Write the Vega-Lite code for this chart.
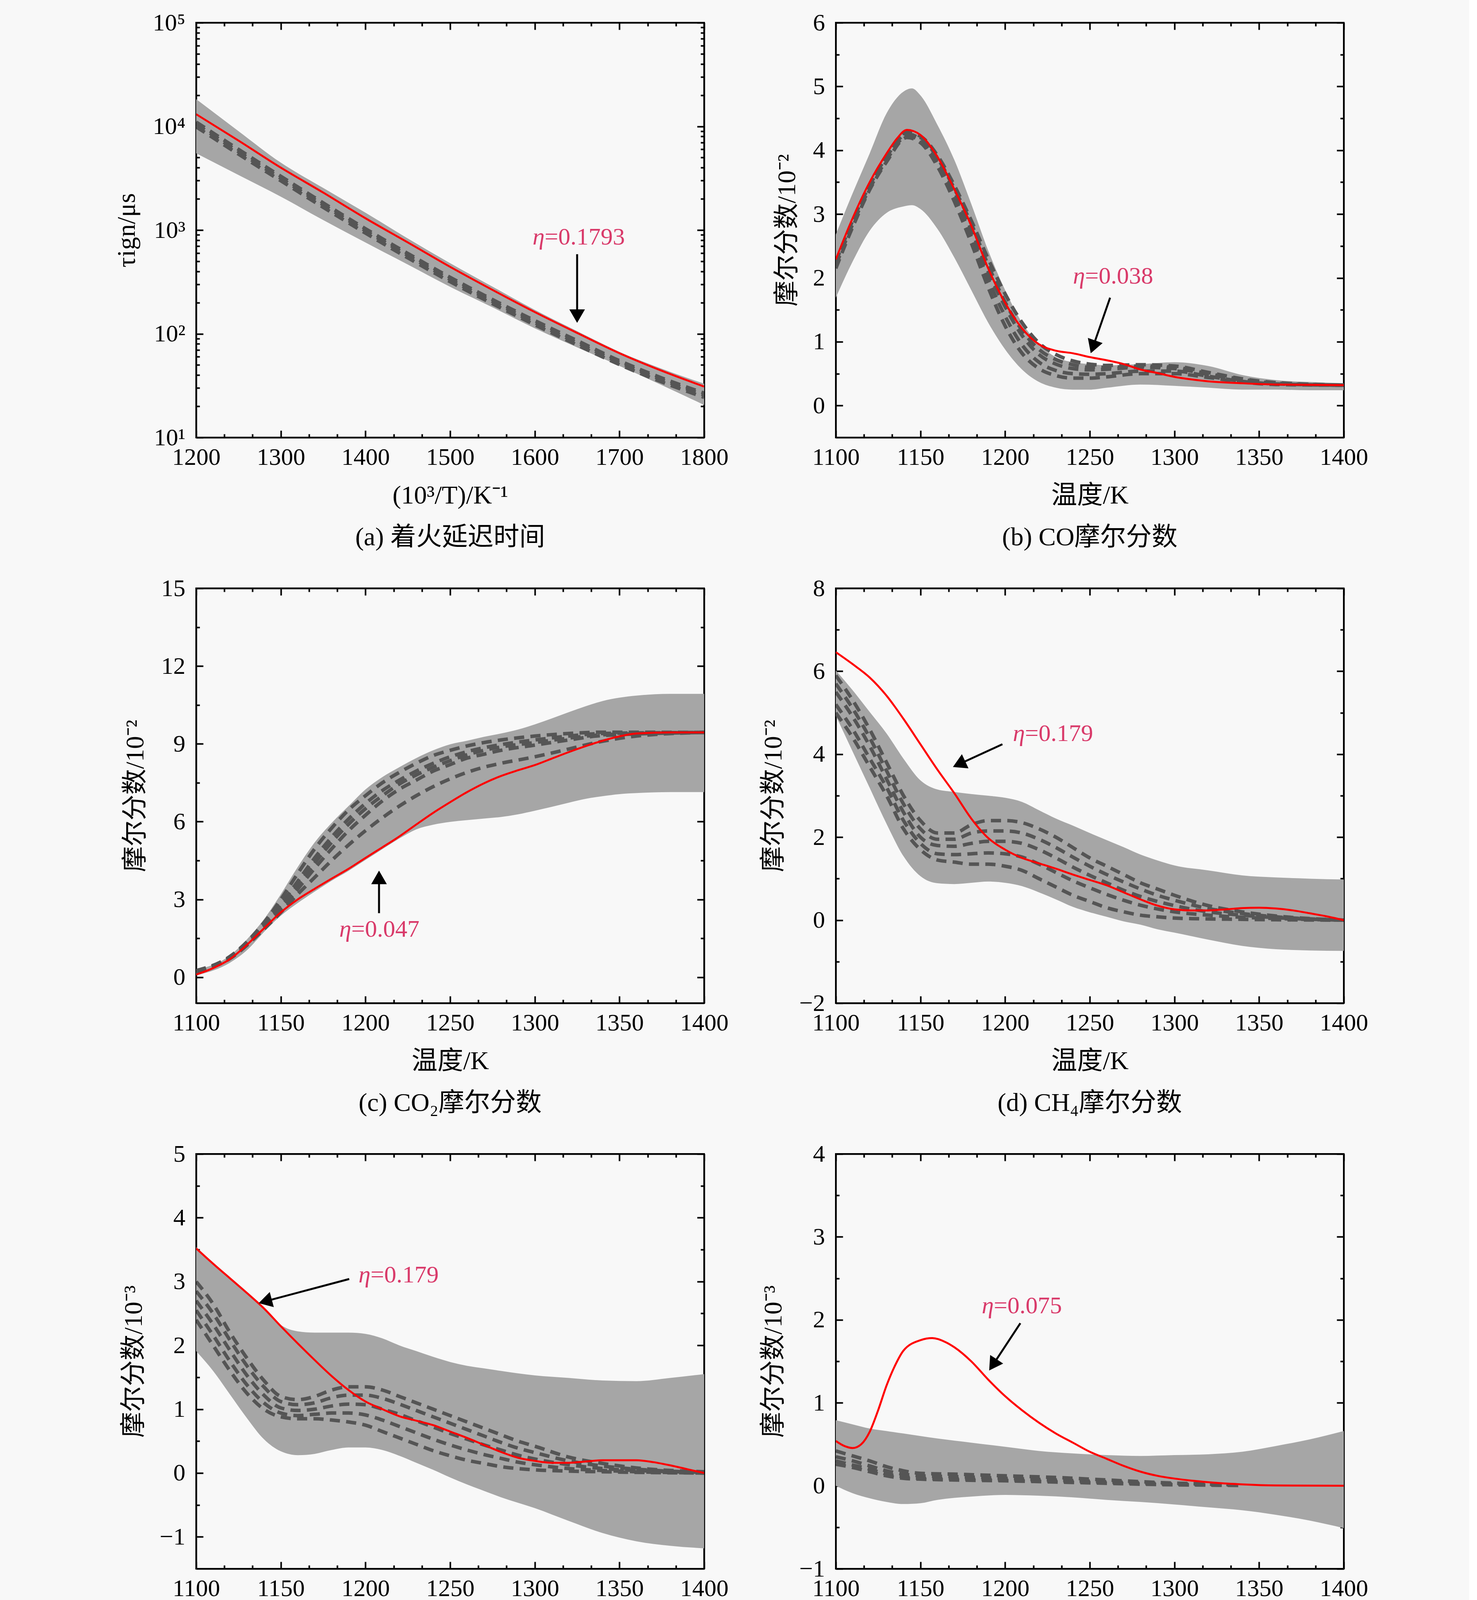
{
"$schema": "https://vega.github.io/schema/vega-lite/v6.json",
"background": "#F8F8F8",
"padding": {"left": 289, "top": 25, "right": 257, "bottom": 0},
"bounds": "flush",
"columns": 2,
"spacing": {"row": 386, "column": 337},
"config": {
 "font": "Liberation Serif, Noto Sans CJK SC",
 "view": {"stroke": "black", "strokeWidth": 4},
 "axis": {"labelFont": "Liberation Serif, Noto Sans CJK SC", "titleFont": "Liberation Serif, Noto Sans CJK SC", "labelFontSize": 62, "titleFontSize": 66, "titleFontWeight": "normal", "labelColor": "black", "titleColor": "black", "tickColor": "black", "domainColor": "black", "tickWidth": 4, "domainWidth": 4, "grid": false, "labelFlush": false, "labelOverlap": false, "zindex": 1},
 "axisX": {"format": "d"},
 "title": {"font": "Liberation Serif, Noto Sans CJK SC", "fontSize": 66, "fontWeight": "normal", "color": "black", "orient": "bottom", "offset": 43, "frame": "group", "anchor": "middle"}
},
"datasets": {
 "aB": [{"x":1200,"lo":5500,"hi":18300},{"x":1250,"lo":3400,"hi":9000},{"x":1300,"lo":2100,"hi":4470},{"x":1350,"lo":1250,"hi":2550},{"x":1400,"lo":760,"hi":1470},{"x":1450,"lo":465,"hi":830},{"x":1500,"lo":284,"hi":480},{"x":1550,"lo":180,"hi":285},{"x":1600,"lo":113,"hi":170},{"x":1650,"lo":74,"hi":106},{"x":1700,"lo":49,"hi":67},{"x":1750,"lo":32,"hi":46},{"x":1800,"lo":20.6,"hi":33}],
 "aR": [{"x":1200,"y":13100},{"x":1250,"y":7300},{"x":1300,"y":4000},{"x":1350,"y":2300},{"x":1400,"y":1300},{"x":1450,"y":760},{"x":1500,"y":442},{"x":1550,"y":265},{"x":1600,"y":162},{"x":1650,"y":102},{"x":1700,"y":65},{"x":1750,"y":44},{"x":1800,"y":31}],
 "aS": [
  {"x":1200,"y":11000,"r":1},{"x":1250,"y":6000,"r":1},{"x":1300,"y":3300,"r":1},{"x":1350,"y":1830,"r":1},{"x":1400,"y":1030,"r":1},{"x":1450,"y":595,"r":1},{"x":1500,"y":350,"r":1},{"x":1550,"y":214,"r":1},{"x":1600,"y":134,"r":1},{"x":1650,"y":86,"r":1},{"x":1700,"y":55,"r":1},{"x":1750,"y":37.5,"r":1},{"x":1800,"y":26.8,"r":1},
  {"x":1200,"y":10500,"r":2},{"x":1250,"y":5700,"r":2},{"x":1300,"y":3150,"r":2},{"x":1350,"y":1750,"r":2},{"x":1400,"y":985,"r":2},{"x":1450,"y":570,"r":2},{"x":1500,"y":334,"r":2},{"x":1550,"y":205,"r":2},{"x":1600,"y":128,"r":2},{"x":1650,"y":82,"r":2},{"x":1700,"y":53,"r":2},{"x":1750,"y":36,"r":2},{"x":1800,"y":25.7,"r":2},
  {"x":1200,"y":9900,"r":3},{"x":1250,"y":5400,"r":3},{"x":1300,"y":2990,"r":3},{"x":1350,"y":1660,"r":3},{"x":1400,"y":935,"r":3},{"x":1450,"y":540,"r":3},{"x":1500,"y":318,"r":3},{"x":1550,"y":195,"r":3},{"x":1600,"y":122,"r":3},{"x":1650,"y":78,"r":3},{"x":1700,"y":50.5,"r":3},{"x":1750,"y":34.3,"r":3},{"x":1800,"y":24.4,"r":3}],
 "aN": [{"x":1650,"y":585,"hx":1650,"hy":148,"tx":1611.6,"ty":859,"eta":"=0.1793"}],
 "bB": [{"x":1100,"lo":1.69,"hi":2.68},{"x":1110,"lo":2.26,"hi":3.33},{"x":1120,"lo":2.74,"hi":3.95},{"x":1130,"lo":3.02,"hi":4.58},{"x":1140,"lo":3.12,"hi":4.92},{"x":1145,"lo":3.14,"hi":4.97},{"x":1150,"lo":3.08,"hi":4.86},{"x":1160,"lo":2.77,"hi":4.4},{"x":1170,"lo":2.32,"hi":3.85},{"x":1180,"lo":1.81,"hi":3.16},{"x":1190,"lo":1.3,"hi":2.43},{"x":1200,"lo":0.88,"hi":1.81},{"x":1210,"lo":0.565,"hi":1.3},{"x":1220,"lo":0.37,"hi":0.96},{"x":1230,"lo":0.28,"hi":0.76},{"x":1240,"lo":0.25,"hi":0.68},{"x":1250,"lo":0.25,"hi":0.65},{"x":1260,"lo":0.28,"hi":0.63},{"x":1280,"lo":0.33,"hi":0.65},{"x":1300,"lo":0.31,"hi":0.68},{"x":1320,"lo":0.28,"hi":0.62},{"x":1340,"lo":0.25,"hi":0.48},{"x":1360,"lo":0.25,"hi":0.4},{"x":1380,"lo":0.24,"hi":0.37},{"x":1400,"lo":0.24,"hi":0.35}],
 "bR": [{"x":1100,"y":2.29},{"x":1110,"y":2.94},{"x":1120,"y":3.5},{"x":1130,"y":3.95},{"x":1136,"y":4.18},{"x":1142,"y":4.32},{"x":1146,"y":4.3},{"x":1150,"y":4.24},{"x":1160,"y":3.9},{"x":1170,"y":3.39},{"x":1180,"y":2.82},{"x":1190,"y":2.15},{"x":1200,"y":1.61},{"x":1210,"y":1.21},{"x":1220,"y":0.96},{"x":1230,"y":0.86},{"x":1240,"y":0.82},{"x":1250,"y":0.76},{"x":1260,"y":0.71},{"x":1270,"y":0.65},{"x":1280,"y":0.565},{"x":1290,"y":0.51},{"x":1300,"y":0.45},{"x":1310,"y":0.41},{"x":1320,"y":0.38},{"x":1340,"y":0.35},{"x":1360,"y":0.33},{"x":1400,"y":0.32}],
 "bS": [
  {"x":1100,"y":2.2,"r":1},{"x":1110,"y":2.85,"r":1},{"x":1120,"y":3.45,"r":1},{"x":1130,"y":3.92,"r":1},{"x":1142,"y":4.28,"r":1},{"x":1150,"y":4.22,"r":1},{"x":1160,"y":3.92,"r":1},{"x":1170,"y":3.45,"r":1},{"x":1180,"y":2.9,"r":1},{"x":1190,"y":2.3,"r":1},{"x":1200,"y":1.75,"r":1},{"x":1210,"y":1.3,"r":1},{"x":1220,"y":0.98,"r":1},{"x":1230,"y":0.8,"r":1},{"x":1240,"y":0.7,"r":1},{"x":1250,"y":0.65,"r":1},{"x":1260,"y":0.63,"r":1},{"x":1280,"y":0.64,"r":1},{"x":1300,"y":0.62,"r":1},{"x":1320,"y":0.52,"r":1},{"x":1340,"y":0.42,"r":1},{"x":1360,"y":0.36,"r":1},{"x":1400,"y":0.32,"r":1},
  {"x":1100,"y":2.25,"r":2},{"x":1110,"y":2.9,"r":2},{"x":1120,"y":3.45,"r":2},{"x":1130,"y":3.9,"r":2},{"x":1142,"y":4.25,"r":2},{"x":1150,"y":4.18,"r":2},{"x":1160,"y":3.85,"r":2},{"x":1170,"y":3.35,"r":2},{"x":1180,"y":2.75,"r":2},{"x":1190,"y":2.1,"r":2},{"x":1200,"y":1.55,"r":2},{"x":1210,"y":1.1,"r":2},{"x":1220,"y":0.8,"r":2},{"x":1230,"y":0.65,"r":2},{"x":1240,"y":0.58,"r":2},{"x":1250,"y":0.56,"r":2},{"x":1260,"y":0.57,"r":2},{"x":1280,"y":0.6,"r":2},{"x":1300,"y":0.58,"r":2},{"x":1320,"y":0.49,"r":2},{"x":1340,"y":0.4,"r":2},{"x":1360,"y":0.35,"r":2},{"x":1400,"y":0.32,"r":2},
  {"x":1100,"y":2.2,"r":3},{"x":1110,"y":2.85,"r":3},{"x":1120,"y":3.4,"r":3},{"x":1130,"y":3.85,"r":3},{"x":1142,"y":4.22,"r":3},{"x":1150,"y":4.15,"r":3},{"x":1160,"y":3.8,"r":3},{"x":1170,"y":3.28,"r":3},{"x":1180,"y":2.65,"r":3},{"x":1190,"y":1.98,"r":3},{"x":1200,"y":1.4,"r":3},{"x":1210,"y":0.95,"r":3},{"x":1220,"y":0.68,"r":3},{"x":1230,"y":0.55,"r":3},{"x":1240,"y":0.5,"r":3},{"x":1250,"y":0.49,"r":3},{"x":1260,"y":0.5,"r":3},{"x":1280,"y":0.54,"r":3},{"x":1300,"y":0.54,"r":3},{"x":1320,"y":0.46,"r":3},{"x":1340,"y":0.38,"r":3},{"x":1360,"y":0.34,"r":3},{"x":1400,"y":0.32,"r":3},
  {"x":1100,"y":2.15,"r":4},{"x":1110,"y":2.8,"r":4},{"x":1120,"y":3.38,"r":4},{"x":1130,"y":3.82,"r":4},{"x":1142,"y":4.2,"r":4},{"x":1150,"y":4.12,"r":4},{"x":1160,"y":3.75,"r":4},{"x":1170,"y":3.2,"r":4},{"x":1180,"y":2.55,"r":4},{"x":1190,"y":1.85,"r":4},{"x":1200,"y":1.25,"r":4},{"x":1210,"y":0.82,"r":4},{"x":1220,"y":0.58,"r":4},{"x":1230,"y":0.47,"r":4},{"x":1240,"y":0.43,"r":4},{"x":1250,"y":0.43,"r":4},{"x":1260,"y":0.45,"r":4},{"x":1280,"y":0.5,"r":4},{"x":1300,"y":0.5,"r":4},{"x":1320,"y":0.44,"r":4},{"x":1340,"y":0.37,"r":4},{"x":1360,"y":0.33,"r":4},{"x":1400,"y":0.32,"r":4},
  {"x":1100,"y":2.2,"r":5},{"x":1110,"y":2.85,"r":5},{"x":1120,"y":3.42,"r":5},{"x":1130,"y":3.88,"r":5},{"x":1142,"y":4.25,"r":5},{"x":1150,"y":4.2,"r":5},{"x":1160,"y":3.88,"r":5},{"x":1170,"y":3.4,"r":5},{"x":1180,"y":2.85,"r":5},{"x":1190,"y":2.2,"r":5},{"x":1200,"y":1.62,"r":5},{"x":1210,"y":1.18,"r":5},{"x":1220,"y":0.88,"r":5},{"x":1230,"y":0.72,"r":5},{"x":1240,"y":0.64,"r":5},{"x":1250,"y":0.6,"r":5},{"x":1260,"y":0.6,"r":5},{"x":1280,"y":0.62,"r":5},{"x":1300,"y":0.6,"r":5},{"x":1320,"y":0.5,"r":5},{"x":1340,"y":0.41,"r":5},{"x":1360,"y":0.35,"r":5},{"x":1400,"y":0.32,"r":5}],
 "bN": [{"x":1262,"y":1.69,"hx":1251.9,"hy":0.92,"tx":1247.2,"ty":2.03,"eta":"=0.038"}],
 "cB": [{"x":1100,"lo":0.07,"hi":0.28},{"x":1120,"lo":0.56,"hi":0.84},{"x":1130,"lo":1.04,"hi":1.46},{"x":1140,"lo":1.74,"hi":2.23},{"x":1150,"lo":2.37,"hi":3.2},{"x":1160,"lo":2.86,"hi":4.25},{"x":1170,"lo":3.3,"hi":5.2},{"x":1180,"lo":3.72,"hi":5.95},{"x":1190,"lo":4.1,"hi":6.6},{"x":1200,"lo":4.52,"hi":7.24},{"x":1210,"lo":4.94,"hi":7.72},{"x":1220,"lo":5.35,"hi":8.1},{"x":1230,"lo":5.7,"hi":8.45},{"x":1240,"lo":5.88,"hi":8.75},{"x":1250,"lo":5.99,"hi":8.98},{"x":1260,"lo":6.06,"hi":9.12},{"x":1270,"lo":6.12,"hi":9.27},{"x":1280,"lo":6.18,"hi":9.4},{"x":1290,"lo":6.28,"hi":9.55},{"x":1300,"lo":6.42,"hi":9.75},{"x":1310,"lo":6.57,"hi":9.98},{"x":1320,"lo":6.73,"hi":10.22},{"x":1330,"lo":6.88,"hi":10.45},{"x":1340,"lo":6.98,"hi":10.65},{"x":1350,"lo":7.06,"hi":10.78},{"x":1360,"lo":7.1,"hi":10.86},{"x":1380,"lo":7.14,"hi":10.93},{"x":1400,"lo":7.14,"hi":10.93}],
 "cR": [{"x":1100,"y":0.1},{"x":1110,"y":0.35},{"x":1120,"y":0.7},{"x":1130,"y":1.25},{"x":1140,"y":1.88},{"x":1150,"y":2.5},{"x":1160,"y":3.0},{"x":1170,"y":3.41},{"x":1180,"y":3.8},{"x":1190,"y":4.18},{"x":1200,"y":4.6},{"x":1210,"y":5.01},{"x":1220,"y":5.43},{"x":1230,"y":5.89},{"x":1240,"y":6.34},{"x":1250,"y":6.75},{"x":1260,"y":7.14},{"x":1270,"y":7.48},{"x":1280,"y":7.76},{"x":1290,"y":7.98},{"x":1300,"y":8.18},{"x":1310,"y":8.43},{"x":1320,"y":8.68},{"x":1330,"y":8.91},{"x":1340,"y":9.12},{"x":1350,"y":9.29},{"x":1360,"y":9.4},{"x":1380,"y":9.44},{"x":1400,"y":9.44}],
 "cS": [
  {"x":1100,"y":0.25,"r":1},{"x":1120,"y":0.8,"r":1},{"x":1140,"y":2.1,"r":1},{"x":1150,"y":3.0,"r":1},{"x":1160,"y":4.0,"r":1},{"x":1170,"y":4.95,"r":1},{"x":1180,"y":5.75,"r":1},{"x":1190,"y":6.45,"r":1},{"x":1200,"y":7.0,"r":1},{"x":1210,"y":7.5,"r":1},{"x":1220,"y":7.9,"r":1},{"x":1230,"y":8.25,"r":1},{"x":1240,"y":8.55,"r":1},{"x":1250,"y":8.75,"r":1},{"x":1260,"y":8.92,"r":1},{"x":1270,"y":9.05,"r":1},{"x":1280,"y":9.15,"r":1},{"x":1300,"y":9.3,"r":1},{"x":1320,"y":9.4,"r":1},{"x":1340,"y":9.45,"r":1},{"x":1400,"y":9.44,"r":1},
  {"x":1100,"y":0.25,"r":2},{"x":1120,"y":0.78,"r":2},{"x":1140,"y":2.0,"r":2},{"x":1150,"y":2.8,"r":2},{"x":1160,"y":3.7,"r":2},{"x":1170,"y":4.6,"r":2},{"x":1180,"y":5.4,"r":2},{"x":1190,"y":6.1,"r":2},{"x":1200,"y":6.7,"r":2},{"x":1210,"y":7.2,"r":2},{"x":1220,"y":7.6,"r":2},{"x":1230,"y":7.95,"r":2},{"x":1240,"y":8.25,"r":2},{"x":1250,"y":8.5,"r":2},{"x":1260,"y":8.7,"r":2},{"x":1270,"y":8.85,"r":2},{"x":1280,"y":8.97,"r":2},{"x":1300,"y":9.15,"r":2},{"x":1320,"y":9.3,"r":2},{"x":1340,"y":9.4,"r":2},{"x":1400,"y":9.44,"r":2},
  {"x":1100,"y":0.22,"r":3},{"x":1120,"y":0.75,"r":3},{"x":1140,"y":1.9,"r":3},{"x":1150,"y":2.6,"r":3},{"x":1160,"y":3.4,"r":3},{"x":1170,"y":4.2,"r":3},{"x":1180,"y":4.95,"r":3},{"x":1190,"y":5.65,"r":3},{"x":1200,"y":6.25,"r":3},{"x":1210,"y":6.8,"r":3},{"x":1220,"y":7.25,"r":3},{"x":1230,"y":7.6,"r":3},{"x":1240,"y":7.95,"r":3},{"x":1250,"y":8.2,"r":3},{"x":1260,"y":8.45,"r":3},{"x":1270,"y":8.6,"r":3},{"x":1280,"y":8.75,"r":3},{"x":1300,"y":8.95,"r":3},{"x":1320,"y":9.15,"r":3},{"x":1340,"y":9.32,"r":3},{"x":1400,"y":9.44,"r":3},
  {"x":1100,"y":0.2,"r":4},{"x":1120,"y":0.72,"r":4},{"x":1140,"y":1.85,"r":4},{"x":1150,"y":2.5,"r":4},{"x":1160,"y":3.2,"r":4},{"x":1170,"y":3.85,"r":4},{"x":1180,"y":4.5,"r":4},{"x":1190,"y":5.1,"r":4},{"x":1200,"y":5.65,"r":4},{"x":1210,"y":6.15,"r":4},{"x":1220,"y":6.6,"r":4},{"x":1230,"y":7.0,"r":4},{"x":1240,"y":7.35,"r":4},{"x":1250,"y":7.65,"r":4},{"x":1260,"y":7.9,"r":4},{"x":1270,"y":8.1,"r":4},{"x":1280,"y":8.25,"r":4},{"x":1300,"y":8.5,"r":4},{"x":1320,"y":8.8,"r":4},{"x":1340,"y":9.1,"r":4},{"x":1360,"y":9.3,"r":4},{"x":1400,"y":9.44,"r":4},
  {"x":1100,"y":0.22,"r":5},{"x":1120,"y":0.76,"r":5},{"x":1140,"y":1.95,"r":5},{"x":1150,"y":2.7,"r":5},{"x":1160,"y":3.55,"r":5},{"x":1170,"y":4.4,"r":5},{"x":1180,"y":5.2,"r":5},{"x":1190,"y":5.9,"r":5},{"x":1200,"y":6.5,"r":5},{"x":1210,"y":7.0,"r":5},{"x":1220,"y":7.45,"r":5},{"x":1230,"y":7.8,"r":5},{"x":1240,"y":8.1,"r":5},{"x":1250,"y":8.35,"r":5},{"x":1260,"y":8.58,"r":5},{"x":1270,"y":8.75,"r":5},{"x":1280,"y":8.88,"r":5},{"x":1300,"y":9.05,"r":5},{"x":1320,"y":9.22,"r":5},{"x":1340,"y":9.35,"r":5},{"x":1400,"y":9.44,"r":5}],
 "cN": [{"x":1208,"y":2.47,"hx":1208,"hy":3.85,"tx":1191.6,"ty":1.85,"eta":"=0.047"}],
 "dB": [{"x":1100,"lo":4.93,"hi":6.02},{"x":1110,"lo":4.06,"hi":5.54},{"x":1120,"lo":3.19,"hi":5.02},{"x":1130,"lo":2.32,"hi":4.5},{"x":1140,"lo":1.54,"hi":3.89},{"x":1150,"lo":1.06,"hi":3.37},{"x":1160,"lo":0.89,"hi":3.15},{"x":1170,"lo":0.87,"hi":3.09},{"x":1180,"lo":0.9,"hi":3.04},{"x":1190,"lo":0.93,"hi":3.0},{"x":1200,"lo":0.9,"hi":2.95},{"x":1210,"lo":0.82,"hi":2.85},{"x":1220,"lo":0.67,"hi":2.65},{"x":1230,"lo":0.5,"hi":2.45},{"x":1240,"lo":0.32,"hi":2.28},{"x":1250,"lo":0.19,"hi":2.1},{"x":1260,"lo":0.08,"hi":1.93},{"x":1270,"lo":-0.03,"hi":1.76},{"x":1280,"lo":-0.11,"hi":1.58},{"x":1290,"lo":-0.22,"hi":1.44},{"x":1300,"lo":-0.3,"hi":1.32},{"x":1320,"lo":-0.47,"hi":1.2},{"x":1340,"lo":-0.62,"hi":1.08},{"x":1360,"lo":-0.7,"hi":1.03},{"x":1380,"lo":-0.73,"hi":1.0},{"x":1400,"lo":-0.74,"hi":0.98}],
 "dR": [{"x":1100,"y":6.46},{"x":1110,"y":6.17},{"x":1120,"y":5.85},{"x":1130,"y":5.41},{"x":1140,"y":4.85},{"x":1150,"y":4.24},{"x":1160,"y":3.63},{"x":1170,"y":3.06},{"x":1180,"y":2.45},{"x":1190,"y":1.98},{"x":1200,"y":1.7},{"x":1210,"y":1.5},{"x":1220,"y":1.37},{"x":1230,"y":1.24},{"x":1240,"y":1.1},{"x":1250,"y":0.97},{"x":1260,"y":0.84},{"x":1270,"y":0.67},{"x":1280,"y":0.5},{"x":1290,"y":0.35},{"x":1300,"y":0.26},{"x":1310,"y":0.235},{"x":1320,"y":0.235},{"x":1330,"y":0.26},{"x":1340,"y":0.29},{"x":1350,"y":0.3},{"x":1360,"y":0.28},{"x":1370,"y":0.235},{"x":1380,"y":0.165},{"x":1390,"y":0.09},{"x":1400,"y":0.0}],
 "dS": [
  {"x":1100,"y":5.9,"r":1},{"x":1110,"y":5.3,"r":1},{"x":1120,"y":4.6,"r":1},{"x":1130,"y":3.8,"r":1},{"x":1140,"y":3.0,"r":1},{"x":1150,"y":2.4,"r":1},{"x":1160,"y":2.1,"r":1},{"x":1170,"y":2.1,"r":1},{"x":1180,"y":2.3,"r":1},{"x":1190,"y":2.4,"r":1},{"x":1200,"y":2.4,"r":1},{"x":1210,"y":2.35,"r":1},{"x":1220,"y":2.2,"r":1},{"x":1230,"y":2.0,"r":1},{"x":1240,"y":1.75,"r":1},{"x":1250,"y":1.5,"r":1},{"x":1260,"y":1.3,"r":1},{"x":1270,"y":1.1,"r":1},{"x":1280,"y":0.9,"r":1},{"x":1290,"y":0.75,"r":1},{"x":1300,"y":0.6,"r":1},{"x":1320,"y":0.35,"r":1},{"x":1340,"y":0.2,"r":1},{"x":1360,"y":0.1,"r":1},{"x":1400,"y":0.0,"r":1},
  {"x":1100,"y":5.7,"r":2},{"x":1110,"y":5.1,"r":2},{"x":1120,"y":4.4,"r":2},{"x":1130,"y":3.6,"r":2},{"x":1140,"y":2.8,"r":2},{"x":1150,"y":2.2,"r":2},{"x":1160,"y":1.95,"r":2},{"x":1170,"y":1.95,"r":2},{"x":1180,"y":2.1,"r":2},{"x":1190,"y":2.15,"r":2},{"x":1200,"y":2.15,"r":2},{"x":1210,"y":2.1,"r":2},{"x":1220,"y":1.95,"r":2},{"x":1230,"y":1.75,"r":2},{"x":1240,"y":1.52,"r":2},{"x":1250,"y":1.3,"r":2},{"x":1260,"y":1.1,"r":2},{"x":1270,"y":0.92,"r":2},{"x":1280,"y":0.75,"r":2},{"x":1290,"y":0.6,"r":2},{"x":1300,"y":0.48,"r":2},{"x":1320,"y":0.28,"r":2},{"x":1340,"y":0.16,"r":2},{"x":1360,"y":0.08,"r":2},{"x":1400,"y":0.0,"r":2},
  {"x":1100,"y":5.5,"r":3},{"x":1110,"y":4.9,"r":3},{"x":1120,"y":4.2,"r":3},{"x":1130,"y":3.4,"r":3},{"x":1140,"y":2.6,"r":3},{"x":1150,"y":2.0,"r":3},{"x":1160,"y":1.8,"r":3},{"x":1170,"y":1.78,"r":3},{"x":1180,"y":1.85,"r":3},{"x":1190,"y":1.9,"r":3},{"x":1200,"y":1.9,"r":3},{"x":1210,"y":1.85,"r":3},{"x":1220,"y":1.7,"r":3},{"x":1230,"y":1.5,"r":3},{"x":1240,"y":1.28,"r":3},{"x":1250,"y":1.08,"r":3},{"x":1260,"y":0.9,"r":3},{"x":1270,"y":0.72,"r":3},{"x":1280,"y":0.57,"r":3},{"x":1290,"y":0.45,"r":3},{"x":1300,"y":0.35,"r":3},{"x":1320,"y":0.2,"r":3},{"x":1340,"y":0.12,"r":3},{"x":1360,"y":0.06,"r":3},{"x":1400,"y":0.0,"r":3},
  {"x":1100,"y":5.2,"r":4},{"x":1110,"y":4.6,"r":4},{"x":1120,"y":3.9,"r":4},{"x":1130,"y":3.2,"r":4},{"x":1140,"y":2.4,"r":4},{"x":1150,"y":1.85,"r":4},{"x":1160,"y":1.6,"r":4},{"x":1170,"y":1.58,"r":4},{"x":1180,"y":1.6,"r":4},{"x":1190,"y":1.62,"r":4},{"x":1200,"y":1.6,"r":4},{"x":1210,"y":1.52,"r":4},{"x":1220,"y":1.35,"r":4},{"x":1230,"y":1.15,"r":4},{"x":1240,"y":0.95,"r":4},{"x":1250,"y":0.78,"r":4},{"x":1260,"y":0.62,"r":4},{"x":1270,"y":0.48,"r":4},{"x":1280,"y":0.36,"r":4},{"x":1290,"y":0.27,"r":4},{"x":1300,"y":0.2,"r":4},{"x":1320,"y":0.12,"r":4},{"x":1340,"y":0.07,"r":4},{"x":1360,"y":0.04,"r":4},{"x":1400,"y":0.0,"r":4},
  {"x":1100,"y":5.0,"r":5},{"x":1110,"y":4.4,"r":5},{"x":1120,"y":3.7,"r":5},{"x":1130,"y":3.0,"r":5},{"x":1140,"y":2.2,"r":5},{"x":1150,"y":1.7,"r":5},{"x":1160,"y":1.45,"r":5},{"x":1170,"y":1.4,"r":5},{"x":1180,"y":1.35,"r":5},{"x":1190,"y":1.35,"r":5},{"x":1200,"y":1.3,"r":5},{"x":1210,"y":1.2,"r":5},{"x":1220,"y":1.0,"r":5},{"x":1230,"y":0.8,"r":5},{"x":1240,"y":0.6,"r":5},{"x":1250,"y":0.45,"r":5},{"x":1260,"y":0.3,"r":5},{"x":1270,"y":0.2,"r":5},{"x":1280,"y":0.12,"r":5},{"x":1290,"y":0.08,"r":5},{"x":1300,"y":0.05,"r":5},{"x":1320,"y":0.03,"r":5},{"x":1340,"y":0.02,"r":5},{"x":1360,"y":0.01,"r":5},{"x":1400,"y":0.0,"r":5}],
 "dN": [{"x":1198.4,"y":4.24,"hx":1172.8,"hy":3.76,"tx":1211.7,"ty":4.5,"eta":"=0.179"}],
 "eB": [{"x":1100,"lo":1.91,"hi":3.54},{"x":1110,"lo":1.6,"hi":3.3},{"x":1120,"lo":1.23,"hi":3.07},{"x":1130,"lo":0.86,"hi":2.84},{"x":1140,"lo":0.53,"hi":2.6},{"x":1150,"lo":0.34,"hi":2.32},{"x":1160,"lo":0.28,"hi":2.22},{"x":1170,"lo":0.3,"hi":2.2},{"x":1180,"lo":0.36,"hi":2.2},{"x":1190,"lo":0.4,"hi":2.2},{"x":1200,"lo":0.4,"hi":2.18},{"x":1210,"lo":0.36,"hi":2.11},{"x":1220,"lo":0.27,"hi":2.0},{"x":1230,"lo":0.16,"hi":1.91},{"x":1240,"lo":0.05,"hi":1.82},{"x":1250,"lo":-0.07,"hi":1.74},{"x":1260,"lo":-0.18,"hi":1.68},{"x":1270,"lo":-0.28,"hi":1.64},{"x":1280,"lo":-0.38,"hi":1.6},{"x":1300,"lo":-0.55,"hi":1.53},{"x":1320,"lo":-0.75,"hi":1.49},{"x":1340,"lo":-0.94,"hi":1.45},{"x":1360,"lo":-1.07,"hi":1.44},{"x":1380,"lo":-1.14,"hi":1.49},{"x":1400,"lo":-1.18,"hi":1.55}],
 "eR": [{"x":1100,"y":3.52},{"x":1110,"y":3.28},{"x":1120,"y":3.05},{"x":1130,"y":2.82},{"x":1140,"y":2.58},{"x":1150,"y":2.3},{"x":1160,"y":2.03},{"x":1170,"y":1.77},{"x":1180,"y":1.52},{"x":1190,"y":1.3},{"x":1200,"y":1.12},{"x":1210,"y":1.0},{"x":1220,"y":0.89},{"x":1230,"y":0.82},{"x":1240,"y":0.75},{"x":1250,"y":0.65},{"x":1260,"y":0.55},{"x":1270,"y":0.44},{"x":1280,"y":0.33},{"x":1290,"y":0.24},{"x":1300,"y":0.19},{"x":1310,"y":0.16},{"x":1320,"y":0.16},{"x":1330,"y":0.18},{"x":1340,"y":0.2},{"x":1350,"y":0.2},{"x":1360,"y":0.2},{"x":1370,"y":0.17},{"x":1380,"y":0.12},{"x":1390,"y":0.06},{"x":1400,"y":0.0}],
 "eS": [
  {"x":1100,"y":3.0,"r":1},{"x":1110,"y":2.65,"r":1},{"x":1120,"y":2.2,"r":1},{"x":1130,"y":1.8,"r":1},{"x":1140,"y":1.45,"r":1},{"x":1150,"y":1.2,"r":1},{"x":1160,"y":1.15,"r":1},{"x":1170,"y":1.2,"r":1},{"x":1180,"y":1.3,"r":1},{"x":1190,"y":1.35,"r":1},{"x":1200,"y":1.35,"r":1},{"x":1210,"y":1.3,"r":1},{"x":1220,"y":1.2,"r":1},{"x":1230,"y":1.1,"r":1},{"x":1240,"y":1.0,"r":1},{"x":1250,"y":0.9,"r":1},{"x":1260,"y":0.8,"r":1},{"x":1270,"y":0.7,"r":1},{"x":1280,"y":0.6,"r":1},{"x":1290,"y":0.5,"r":1},{"x":1300,"y":0.42,"r":1},{"x":1320,"y":0.25,"r":1},{"x":1340,"y":0.15,"r":1},{"x":1360,"y":0.08,"r":1},{"x":1400,"y":0.02,"r":1},
  {"x":1100,"y":2.85,"r":2},{"x":1110,"y":2.5,"r":2},{"x":1120,"y":2.08,"r":2},{"x":1130,"y":1.68,"r":2},{"x":1140,"y":1.35,"r":2},{"x":1150,"y":1.12,"r":2},{"x":1160,"y":1.07,"r":2},{"x":1170,"y":1.1,"r":2},{"x":1180,"y":1.18,"r":2},{"x":1190,"y":1.22,"r":2},{"x":1200,"y":1.22,"r":2},{"x":1210,"y":1.17,"r":2},{"x":1220,"y":1.08,"r":2},{"x":1230,"y":0.98,"r":2},{"x":1240,"y":0.88,"r":2},{"x":1250,"y":0.78,"r":2},{"x":1260,"y":0.68,"r":2},{"x":1270,"y":0.58,"r":2},{"x":1280,"y":0.48,"r":2},{"x":1290,"y":0.39,"r":2},{"x":1300,"y":0.32,"r":2},{"x":1320,"y":0.19,"r":2},{"x":1340,"y":0.11,"r":2},{"x":1360,"y":0.06,"r":2},{"x":1400,"y":0.01,"r":2},
  {"x":1100,"y":2.7,"r":3},{"x":1110,"y":2.33,"r":3},{"x":1120,"y":1.92,"r":3},{"x":1130,"y":1.53,"r":3},{"x":1140,"y":1.22,"r":3},{"x":1150,"y":1.02,"r":3},{"x":1160,"y":0.98,"r":3},{"x":1170,"y":1.0,"r":3},{"x":1180,"y":1.05,"r":3},{"x":1190,"y":1.08,"r":3},{"x":1200,"y":1.07,"r":3},{"x":1210,"y":1.0,"r":3},{"x":1220,"y":0.92,"r":3},{"x":1230,"y":0.82,"r":3},{"x":1240,"y":0.72,"r":3},{"x":1250,"y":0.62,"r":3},{"x":1260,"y":0.53,"r":3},{"x":1270,"y":0.44,"r":3},{"x":1280,"y":0.36,"r":3},{"x":1290,"y":0.28,"r":3},{"x":1300,"y":0.22,"r":3},{"x":1320,"y":0.13,"r":3},{"x":1340,"y":0.07,"r":3},{"x":1360,"y":0.04,"r":3},{"x":1400,"y":0.01,"r":3},
  {"x":1100,"y":2.55,"r":4},{"x":1110,"y":2.16,"r":4},{"x":1120,"y":1.75,"r":4},{"x":1130,"y":1.38,"r":4},{"x":1140,"y":1.1,"r":4},{"x":1150,"y":0.94,"r":4},{"x":1160,"y":0.9,"r":4},{"x":1170,"y":0.92,"r":4},{"x":1180,"y":0.94,"r":4},{"x":1190,"y":0.94,"r":4},{"x":1200,"y":0.91,"r":4},{"x":1210,"y":0.83,"r":4},{"x":1220,"y":0.73,"r":4},{"x":1230,"y":0.63,"r":4},{"x":1240,"y":0.53,"r":4},{"x":1250,"y":0.44,"r":4},{"x":1260,"y":0.36,"r":4},{"x":1270,"y":0.29,"r":4},{"x":1280,"y":0.23,"r":4},{"x":1290,"y":0.17,"r":4},{"x":1300,"y":0.13,"r":4},{"x":1320,"y":0.07,"r":4},{"x":1340,"y":0.04,"r":4},{"x":1360,"y":0.02,"r":4},{"x":1400,"y":0.0,"r":4},
  {"x":1100,"y":2.4,"r":5},{"x":1110,"y":2.0,"r":5},{"x":1120,"y":1.6,"r":5},{"x":1130,"y":1.25,"r":5},{"x":1140,"y":1.0,"r":5},{"x":1150,"y":0.88,"r":5},{"x":1160,"y":0.85,"r":5},{"x":1170,"y":0.85,"r":5},{"x":1180,"y":0.83,"r":5},{"x":1190,"y":0.8,"r":5},{"x":1200,"y":0.75,"r":5},{"x":1210,"y":0.65,"r":5},{"x":1220,"y":0.55,"r":5},{"x":1230,"y":0.45,"r":5},{"x":1240,"y":0.35,"r":5},{"x":1250,"y":0.27,"r":5},{"x":1260,"y":0.2,"r":5},{"x":1270,"y":0.15,"r":5},{"x":1280,"y":0.1,"r":5},{"x":1290,"y":0.07,"r":5},{"x":1300,"y":0.05,"r":5},{"x":1320,"y":0.03,"r":5},{"x":1340,"y":0.02,"r":5},{"x":1360,"y":0.01,"r":5},{"x":1400,"y":0.0,"r":5}],
 "eN": [{"x":1190.4,"y":3.04,"hx":1140.8,"hy":2.69,"tx":1203,"ty":3.1,"eta":"=0.179"}],
 "fB": [{"x":1100,"lo":0.0,"hi":0.79},{"x":1110,"lo":-0.09,"hi":0.74},{"x":1120,"lo":-0.15,"hi":0.69},{"x":1130,"lo":-0.195,"hi":0.66},{"x":1140,"lo":-0.22,"hi":0.63},{"x":1150,"lo":-0.21,"hi":0.6},{"x":1160,"lo":-0.17,"hi":0.57},{"x":1180,"lo":-0.13,"hi":0.52},{"x":1200,"lo":-0.11,"hi":0.47},{"x":1220,"lo":-0.12,"hi":0.42},{"x":1240,"lo":-0.14,"hi":0.39},{"x":1260,"lo":-0.17,"hi":0.37},{"x":1280,"lo":-0.195,"hi":0.36},{"x":1300,"lo":-0.225,"hi":0.37},{"x":1320,"lo":-0.26,"hi":0.38},{"x":1340,"lo":-0.295,"hi":0.41},{"x":1360,"lo":-0.35,"hi":0.48},{"x":1380,"lo":-0.42,"hi":0.56},{"x":1400,"lo":-0.51,"hi":0.66}],
 "fR": [{"x":1100,"y":0.54},{"x":1105,"y":0.48},{"x":1110,"y":0.455},{"x":1115,"y":0.5},{"x":1120,"y":0.65},{"x":1125,"y":0.91},{"x":1130,"y":1.21},{"x":1135,"y":1.45},{"x":1140,"y":1.63},{"x":1150,"y":1.755},{"x":1157,"y":1.78},{"x":1165,"y":1.73},{"x":1170,"y":1.67},{"x":1180,"y":1.5},{"x":1190,"y":1.28},{"x":1200,"y":1.08},{"x":1210,"y":0.91},{"x":1220,"y":0.76},{"x":1230,"y":0.63},{"x":1240,"y":0.52},{"x":1250,"y":0.41},{"x":1260,"y":0.325},{"x":1270,"y":0.24},{"x":1280,"y":0.17},{"x":1290,"y":0.12},{"x":1300,"y":0.087},{"x":1320,"y":0.043},{"x":1340,"y":0.017},{"x":1360,"y":0.004},{"x":1400,"y":0.0}],
 "fS": [
  {"x":1100,"y":0.42,"r":1},{"x":1110,"y":0.36,"r":1},{"x":1120,"y":0.3,"r":1},{"x":1130,"y":0.23,"r":1},{"x":1140,"y":0.18,"r":1},{"x":1150,"y":0.15,"r":1},{"x":1170,"y":0.14,"r":1},{"x":1200,"y":0.12,"r":1},{"x":1230,"y":0.1,"r":1},{"x":1260,"y":0.07,"r":1},{"x":1290,"y":0.04,"r":1},{"x":1320,"y":0.02,"r":1},{"x":1340,"y":0.01,"r":1},
  {"x":1100,"y":0.35,"r":2},{"x":1110,"y":0.3,"r":2},{"x":1120,"y":0.24,"r":2},{"x":1130,"y":0.18,"r":2},{"x":1140,"y":0.14,"r":2},{"x":1150,"y":0.12,"r":2},{"x":1170,"y":0.11,"r":2},{"x":1200,"y":0.09,"r":2},{"x":1230,"y":0.07,"r":2},{"x":1260,"y":0.05,"r":2},{"x":1290,"y":0.03,"r":2},{"x":1320,"y":0.015,"r":2},{"x":1340,"y":0.008,"r":2},
  {"x":1100,"y":0.3,"r":3},{"x":1110,"y":0.25,"r":3},{"x":1120,"y":0.2,"r":3},{"x":1130,"y":0.14,"r":3},{"x":1140,"y":0.11,"r":3},{"x":1150,"y":0.09,"r":3},{"x":1170,"y":0.085,"r":3},{"x":1200,"y":0.07,"r":3},{"x":1230,"y":0.055,"r":3},{"x":1260,"y":0.04,"r":3},{"x":1290,"y":0.02,"r":3},{"x":1320,"y":0.01,"r":3},{"x":1340,"y":0.005,"r":3},
  {"x":1100,"y":0.26,"r":4},{"x":1110,"y":0.22,"r":4},{"x":1120,"y":0.17,"r":4},{"x":1130,"y":0.12,"r":4},{"x":1140,"y":0.09,"r":4},{"x":1150,"y":0.08,"r":4},{"x":1170,"y":0.07,"r":4},{"x":1200,"y":0.06,"r":4},{"x":1230,"y":0.045,"r":4},{"x":1260,"y":0.03,"r":4},{"x":1290,"y":0.015,"r":4},{"x":1320,"y":0.008,"r":4},{"x":1340,"y":0.004,"r":4}],
 "fN": [{"x":1209,"y":1.96,"hx":1192.8,"hy":1.457,"tx":1193.3,"ty":2.17,"eta":"=0.075"}]
},
"concat": [
 {"width":1300,"height":1062,"title":{"text":"(a) 着火延迟时间"},
  "layer":[
   {"data":{"name":"aB"},"mark":{"type":"area","color":"#A6A6A6","interpolate":"monotone","clip":true},
    "encoding":{"x":{"field":"x","type":"quantitative","scale":{"domain":[1200,1800],"nice":false,"zero":false},"axis":{"orient":"bottom","ticks":false,"domain":false,"values":[1200,1300,1400,1500,1600,1700,1800],"title":"(10³/T)/K⁻¹","labelPadding":20,"titlePadding":35}},
     "y":{"field":"lo","type":"quantitative","scale":{"type":"log","domain":[10,100000],"nice":false},"axis":{"orient":"left","ticks":false,"domain":false,"values":[10,100,1000,10000,100000],"labelExpr":"'10' + ['⁰','¹','²','³','⁴','⁵'][round(log(datum.value)/LN10)]","title":"τign/μs","labelPadding":28,"titlePadding":32}},
     "y2":{"field":"hi"}}},
   {"data":{"name":"aS"},"mark":{"type":"line","color":"#555555","strokeWidth":9,"strokeDash":[26,16],"interpolate":"monotone","clip":true},
    "encoding":{"x":{"field":"x","type":"quantitative","scale":{"domain":[1200,1800],"nice":false,"zero":false},"axis":{"orient":"bottom","labels":false,"title":null,"values":[1200,1300,1400,1500,1600,1700,1800],"tickSize":-18}},
     "y":{"field":"y","type":"quantitative","scale":{"type":"log","domain":[10,100000],"nice":false},"axis":{"orient":"left","labels":false,"title":null,"values":[10,100,1000,10000,100000],"tickSize":-18}},
     "detail":{"field":"r","type":"nominal"}}},
   {"data":{"name":"aR"},"mark":{"type":"line","color":"#FF0000","strokeWidth":5,"interpolate":"monotone","clip":true},
    "encoding":{"x":{"field":"x","type":"quantitative","scale":{"domain":[1200,1800],"nice":false,"zero":false},"axis":{"orient":"bottom","labels":false,"title":null,"domain":false,"values":[1233.333,1266.667,1333.333,1366.667,1433.333,1466.667,1533.333,1566.667,1633.333,1666.667,1733.333,1766.667],"tickSize":-9}},
     "y":{"field":"y","type":"quantitative","scale":{"type":"log","domain":[10,100000],"nice":false},"axis":{"orient":"left","labels":false,"title":null,"domain":false,"values":[20,30,40,50,60,70,80,90,200,300,400,500,600,700,800,900,2000,3000,4000,5000,6000,7000,8000,9000,20000,30000,40000,50000,60000,70000,80000,90000],"tickSize":-9}}}},
   {"data":{"name":"aN"},"mark":{"type":"rule","color":"black","strokeWidth":5},
    "encoding":{"x":{"field":"x","type":"quantitative","scale":{"domain":[1200,1800],"nice":false,"zero":false},"axis":{"orient":"top","labels":false,"title":null,"values":[1200,1300,1400,1500,1600,1700,1800],"tickSize":-18}},
     "y":{"field":"y","type":"quantitative","scale":{"type":"log","domain":[10,100000],"nice":false},"axis":{"orient":"right","labels":false,"title":null,"values":[10,100,1000,10000,100000],"tickSize":-18}},
     "x2":{"field":"hx"},"y2":{"field":"hy"}}},
   {"data":{"name":"aN"},"mark":{"type":"point","shape":"triangle-up","angle":180,"size":1600,"filled":true,"color":"black","opacity":1},
    "encoding":{"x":{"field":"hx","type":"quantitative","scale":{"domain":[1200,1800],"nice":false,"zero":false},"axis":{"orient":"top","labels":false,"title":null,"domain":false,"values":[1233.333,1266.667,1333.333,1366.667,1433.333,1466.667,1533.333,1566.667,1633.333,1666.667,1733.333,1766.667],"tickSize":-9}},
     "y":{"field":"hy","type":"quantitative","scale":{"type":"log","domain":[10,100000],"nice":false},"axis":{"orient":"right","labels":false,"title":null,"domain":false,"values":[20,30,40,50,60,70,80,90,200,300,400,500,600,700,800,900,2000,3000,4000,5000,6000,7000,8000,9000,20000,30000,40000,50000,60000,70000,80000,90000],"tickSize":-9}}}},
   {"data":{"name":"aN"},"mark":{"type":"text","text":"η","font":"Liberation Serif","fontStyle":"italic","align":"right","baseline":"middle","fontSize":62,"color":"#D93A6A"},
    "encoding":{"x":{"field":"tx","type":"quantitative","scale":{"domain":[1200,1800],"nice":false,"zero":false},"axis":null},"y":{"field":"ty","type":"quantitative","scale":{"type":"log","domain":[10,100000],"nice":false},"axis":null}}},
   {"data":{"name":"aN"},"mark":{"type":"text","font":"Liberation Serif","align":"left","baseline":"middle","fontSize":62,"color":"#D93A6A"},
    "encoding":{"x":{"field":"tx","type":"quantitative","scale":{"domain":[1200,1800],"nice":false,"zero":false},"axis":null},"y":{"field":"ty","type":"quantitative","scale":{"type":"log","domain":[10,100000],"nice":false},"axis":null},"text":{"field":"eta"}}}
  ],
  "resolve":{"axis":{"x":"independent","y":"independent"}}},
 {"width":1300,"height":1062,"title":{"text":"(b) CO摩尔分数"},
  "layer":[
   {"data":{"name":"bB"},"mark":{"type":"area","color":"#A6A6A6","interpolate":"monotone","clip":true},
    "encoding":{"x":{"field":"x","type":"quantitative","scale":{"domain":[1100,1400],"nice":false,"zero":false},"axis":{"orient":"bottom","ticks":false,"domain":false,"values":[1100,1150,1200,1250,1300,1350,1400],"title":"温度/K","labelPadding":20,"titlePadding":35}},
     "y":{"field":"lo","type":"quantitative","scale":{"domain":[-0.5,6],"nice":false,"zero":false},"axis":{"orient":"left","ticks":false,"domain":false,"values":[0,1,2,3,4,5,6],"title":"摩尔分数/10⁻²","labelPadding":28,"titlePadding":32}},
     "y2":{"field":"hi"}}},
   {"data":{"name":"bS"},"mark":{"type":"line","color":"#555555","strokeWidth":9,"strokeDash":[26,16],"interpolate":"monotone","clip":true},
    "encoding":{"x":{"field":"x","type":"quantitative","scale":{"domain":[1100,1400],"nice":false,"zero":false},"axis":{"orient":"bottom","labels":false,"title":null,"values":[1100,1150,1200,1250,1300,1350,1400],"tickSize":-18}},
     "y":{"field":"y","type":"quantitative","scale":{"domain":[-0.5,6],"nice":false,"zero":false},"axis":{"orient":"left","labels":false,"title":null,"values":[0,1,2,3,4,5,6],"tickSize":-18}},
     "detail":{"field":"r","type":"nominal"}}},
   {"data":{"name":"bR"},"mark":{"type":"line","color":"#FF0000","strokeWidth":5,"interpolate":"monotone","clip":true},
    "encoding":{"x":{"field":"x","type":"quantitative","scale":{"domain":[1100,1400],"nice":false,"zero":false},"axis":{"orient":"bottom","labels":false,"title":null,"domain":false,"values":[1116.667,1133.333,1166.667,1183.333,1216.667,1233.333,1266.667,1283.333,1316.667,1333.333,1366.667,1383.333],"tickSize":-9}},
     "y":{"field":"y","type":"quantitative","scale":{"domain":[-0.5,6],"nice":false,"zero":false},"axis":{"orient":"left","labels":false,"title":null,"domain":false,"values":[0.5,1.5,2.5,3.5,4.5,5.5],"tickSize":-9}}}},
   {"data":{"name":"bN"},"mark":{"type":"rule","color":"black","strokeWidth":5},
    "encoding":{"x":{"field":"x","type":"quantitative","scale":{"domain":[1100,1400],"nice":false,"zero":false},"axis":{"orient":"top","labels":false,"title":null,"values":[1100,1150,1200,1250,1300,1350,1400],"tickSize":-18}},
     "y":{"field":"y","type":"quantitative","scale":{"domain":[-0.5,6],"nice":false,"zero":false},"axis":{"orient":"right","labels":false,"title":null,"values":[0,1,2,3,4,5,6],"tickSize":-18}},
     "x2":{"field":"hx"},"y2":{"field":"hy"}}},
   {"data":{"name":"bN"},"mark":{"type":"point","shape":"triangle-up","angle":199.5,"size":1600,"filled":true,"color":"black","opacity":1},
    "encoding":{"x":{"field":"hx","type":"quantitative","scale":{"domain":[1100,1400],"nice":false,"zero":false},"axis":{"orient":"top","labels":false,"title":null,"domain":false,"values":[1116.667,1133.333,1166.667,1183.333,1216.667,1233.333,1266.667,1283.333,1316.667,1333.333,1366.667,1383.333],"tickSize":-9}},
     "y":{"field":"hy","type":"quantitative","scale":{"domain":[-0.5,6],"nice":false,"zero":false},"axis":{"orient":"right","labels":false,"title":null,"domain":false,"values":[0.5,1.5,2.5,3.5,4.5,5.5],"tickSize":-9}}}},
   {"data":{"name":"bN"},"mark":{"type":"text","text":"η","font":"Liberation Serif","fontStyle":"italic","align":"right","baseline":"middle","fontSize":62,"color":"#D93A6A"},
    "encoding":{"x":{"field":"tx","type":"quantitative","scale":{"domain":[1100,1400],"nice":false,"zero":false},"axis":null},"y":{"field":"ty","type":"quantitative","scale":{"domain":[-0.5,6],"nice":false,"zero":false},"axis":null}}},
   {"data":{"name":"bN"},"mark":{"type":"text","font":"Liberation Serif","align":"left","baseline":"middle","fontSize":62,"color":"#D93A6A"},
    "encoding":{"x":{"field":"tx","type":"quantitative","scale":{"domain":[1100,1400],"nice":false,"zero":false},"axis":null},"y":{"field":"ty","type":"quantitative","scale":{"domain":[-0.5,6],"nice":false,"zero":false},"axis":null},"text":{"field":"eta"}}}
  ],
  "resolve":{"axis":{"x":"independent","y":"independent"}}},
 {"width":1300,"height":1062,"title":{"text":"(c) CO₂摩尔分数"},
  "layer":[
   {"data":{"name":"cB"},"mark":{"type":"area","color":"#A6A6A6","interpolate":"monotone","clip":true},
    "encoding":{"x":{"field":"x","type":"quantitative","scale":{"domain":[1100,1400],"nice":false,"zero":false},"axis":{"orient":"bottom","ticks":false,"domain":false,"values":[1100,1150,1200,1250,1300,1350,1400],"title":"温度/K","labelPadding":20,"titlePadding":35}},
     "y":{"field":"lo","type":"quantitative","scale":{"domain":[-1,15],"nice":false,"zero":false},"axis":{"orient":"left","ticks":false,"domain":false,"values":[0,3,6,9,12,15],"title":"摩尔分数/10⁻²","labelPadding":28,"titlePadding":32}},
     "y2":{"field":"hi"}}},
   {"data":{"name":"cS"},"mark":{"type":"line","color":"#555555","strokeWidth":9,"strokeDash":[26,16],"interpolate":"monotone","clip":true},
    "encoding":{"x":{"field":"x","type":"quantitative","scale":{"domain":[1100,1400],"nice":false,"zero":false},"axis":{"orient":"bottom","labels":false,"title":null,"values":[1100,1150,1200,1250,1300,1350,1400],"tickSize":-18}},
     "y":{"field":"y","type":"quantitative","scale":{"domain":[-1,15],"nice":false,"zero":false},"axis":{"orient":"left","labels":false,"title":null,"values":[0,3,6,9,12,15],"tickSize":-18}},
     "detail":{"field":"r","type":"nominal"}}},
   {"data":{"name":"cR"},"mark":{"type":"line","color":"#FF0000","strokeWidth":5,"interpolate":"monotone","clip":true},
    "encoding":{"x":{"field":"x","type":"quantitative","scale":{"domain":[1100,1400],"nice":false,"zero":false},"axis":{"orient":"bottom","labels":false,"title":null,"domain":false,"values":[1116.667,1133.333,1166.667,1183.333,1216.667,1233.333,1266.667,1283.333,1316.667,1333.333,1366.667,1383.333],"tickSize":-9}},
     "y":{"field":"y","type":"quantitative","scale":{"domain":[-1,15],"nice":false,"zero":false},"axis":{"orient":"left","labels":false,"title":null,"domain":false,"values":[1.5,4.5,7.5,10.5,13.5],"tickSize":-9}}}},
   {"data":{"name":"cN"},"mark":{"type":"rule","color":"black","strokeWidth":5},
    "encoding":{"x":{"field":"x","type":"quantitative","scale":{"domain":[1100,1400],"nice":false,"zero":false},"axis":{"orient":"top","labels":false,"title":null,"values":[1100,1150,1200,1250,1300,1350,1400],"tickSize":-18}},
     "y":{"field":"y","type":"quantitative","scale":{"domain":[-1,15],"nice":false,"zero":false},"axis":{"orient":"right","labels":false,"title":null,"values":[0,3,6,9,12,15],"tickSize":-18}},
     "x2":{"field":"hx"},"y2":{"field":"hy"}}},
   {"data":{"name":"cN"},"mark":{"type":"point","shape":"triangle-up","angle":0,"size":1600,"filled":true,"color":"black","opacity":1},
    "encoding":{"x":{"field":"hx","type":"quantitative","scale":{"domain":[1100,1400],"nice":false,"zero":false},"axis":{"orient":"top","labels":false,"title":null,"domain":false,"values":[1116.667,1133.333,1166.667,1183.333,1216.667,1233.333,1266.667,1283.333,1316.667,1333.333,1366.667,1383.333],"tickSize":-9}},
     "y":{"field":"hy","type":"quantitative","scale":{"domain":[-1,15],"nice":false,"zero":false},"axis":{"orient":"right","labels":false,"title":null,"domain":false,"values":[1.5,4.5,7.5,10.5,13.5],"tickSize":-9}}}},
   {"data":{"name":"cN"},"mark":{"type":"text","text":"η","font":"Liberation Serif","fontStyle":"italic","align":"right","baseline":"middle","fontSize":62,"color":"#D93A6A"},
    "encoding":{"x":{"field":"tx","type":"quantitative","scale":{"domain":[1100,1400],"nice":false,"zero":false},"axis":null},"y":{"field":"ty","type":"quantitative","scale":{"domain":[-1,15],"nice":false,"zero":false},"axis":null}}},
   {"data":{"name":"cN"},"mark":{"type":"text","font":"Liberation Serif","align":"left","baseline":"middle","fontSize":62,"color":"#D93A6A"},
    "encoding":{"x":{"field":"tx","type":"quantitative","scale":{"domain":[1100,1400],"nice":false,"zero":false},"axis":null},"y":{"field":"ty","type":"quantitative","scale":{"domain":[-1,15],"nice":false,"zero":false},"axis":null},"text":{"field":"eta"}}}
  ],
  "resolve":{"axis":{"x":"independent","y":"independent"}}},
 {"width":1300,"height":1062,"title":{"text":"(d) CH₄摩尔分数"},
  "layer":[
   {"data":{"name":"dB"},"mark":{"type":"area","color":"#A6A6A6","interpolate":"monotone","clip":true},
    "encoding":{"x":{"field":"x","type":"quantitative","scale":{"domain":[1100,1400],"nice":false,"zero":false},"axis":{"orient":"bottom","ticks":false,"domain":false,"values":[1100,1150,1200,1250,1300,1350,1400],"title":"温度/K","labelPadding":20,"titlePadding":35}},
     "y":{"field":"lo","type":"quantitative","scale":{"domain":[-2,8],"nice":false,"zero":false},"axis":{"orient":"left","ticks":false,"domain":false,"values":[-2,0,2,4,6,8],"title":"摩尔分数/10⁻²","labelPadding":28,"titlePadding":32}},
     "y2":{"field":"hi"}}},
   {"data":{"name":"dS"},"mark":{"type":"line","color":"#555555","strokeWidth":9,"strokeDash":[26,16],"interpolate":"monotone","clip":true},
    "encoding":{"x":{"field":"x","type":"quantitative","scale":{"domain":[1100,1400],"nice":false,"zero":false},"axis":{"orient":"bottom","labels":false,"title":null,"values":[1100,1150,1200,1250,1300,1350,1400],"tickSize":-18}},
     "y":{"field":"y","type":"quantitative","scale":{"domain":[-2,8],"nice":false,"zero":false},"axis":{"orient":"left","labels":false,"title":null,"values":[-2,0,2,4,6,8],"tickSize":-18}},
     "detail":{"field":"r","type":"nominal"}}},
   {"data":{"name":"dR"},"mark":{"type":"line","color":"#FF0000","strokeWidth":5,"interpolate":"monotone","clip":true},
    "encoding":{"x":{"field":"x","type":"quantitative","scale":{"domain":[1100,1400],"nice":false,"zero":false},"axis":{"orient":"bottom","labels":false,"title":null,"domain":false,"values":[1116.667,1133.333,1166.667,1183.333,1216.667,1233.333,1266.667,1283.333,1316.667,1333.333,1366.667,1383.333],"tickSize":-9}},
     "y":{"field":"y","type":"quantitative","scale":{"domain":[-2,8],"nice":false,"zero":false},"axis":{"orient":"left","labels":false,"title":null,"domain":false,"values":[-1,1,3,5,7],"tickSize":-9}}}},
   {"data":{"name":"dN"},"mark":{"type":"rule","color":"black","strokeWidth":5},
    "encoding":{"x":{"field":"x","type":"quantitative","scale":{"domain":[1100,1400],"nice":false,"zero":false},"axis":{"orient":"top","labels":false,"title":null,"values":[1100,1150,1200,1250,1300,1350,1400],"tickSize":-18}},
     "y":{"field":"y","type":"quantitative","scale":{"domain":[-2,8],"nice":false,"zero":false},"axis":{"orient":"right","labels":false,"title":null,"values":[-2,0,2,4,6,8],"tickSize":-18}},
     "x2":{"field":"hx"},"y2":{"field":"hy"}}},
   {"data":{"name":"dN"},"mark":{"type":"point","shape":"triangle-up","angle":245,"size":1600,"filled":true,"color":"black","opacity":1},
    "encoding":{"x":{"field":"hx","type":"quantitative","scale":{"domain":[1100,1400],"nice":false,"zero":false},"axis":{"orient":"top","labels":false,"title":null,"domain":false,"values":[1116.667,1133.333,1166.667,1183.333,1216.667,1233.333,1266.667,1283.333,1316.667,1333.333,1366.667,1383.333],"tickSize":-9}},
     "y":{"field":"hy","type":"quantitative","scale":{"domain":[-2,8],"nice":false,"zero":false},"axis":{"orient":"right","labels":false,"title":null,"domain":false,"values":[-1,1,3,5,7],"tickSize":-9}}}},
   {"data":{"name":"dN"},"mark":{"type":"text","text":"η","font":"Liberation Serif","fontStyle":"italic","align":"right","baseline":"middle","fontSize":62,"color":"#D93A6A"},
    "encoding":{"x":{"field":"tx","type":"quantitative","scale":{"domain":[1100,1400],"nice":false,"zero":false},"axis":null},"y":{"field":"ty","type":"quantitative","scale":{"domain":[-2,8],"nice":false,"zero":false},"axis":null}}},
   {"data":{"name":"dN"},"mark":{"type":"text","font":"Liberation Serif","align":"left","baseline":"middle","fontSize":62,"color":"#D93A6A"},
    "encoding":{"x":{"field":"tx","type":"quantitative","scale":{"domain":[1100,1400],"nice":false,"zero":false},"axis":null},"y":{"field":"ty","type":"quantitative","scale":{"domain":[-2,8],"nice":false,"zero":false},"axis":null},"text":{"field":"eta"}}}
  ],
  "resolve":{"axis":{"x":"independent","y":"independent"}}},
 {"width":1300,"height":1062,"title":{"text":"(e) C₂H₆摩尔分数"},
  "layer":[
   {"data":{"name":"eB"},"mark":{"type":"area","color":"#A6A6A6","interpolate":"monotone","clip":true},
    "encoding":{"x":{"field":"x","type":"quantitative","scale":{"domain":[1100,1400],"nice":false,"zero":false},"axis":{"orient":"bottom","ticks":false,"domain":false,"values":[1100,1150,1200,1250,1300,1350,1400],"title":"温度/K","labelPadding":20,"titlePadding":35}},
     "y":{"field":"lo","type":"quantitative","scale":{"domain":[-1.5,5],"nice":false,"zero":false},"axis":{"orient":"left","ticks":false,"domain":false,"values":[-1,0,1,2,3,4,5],"title":"摩尔分数/10⁻³","labelPadding":28,"titlePadding":32}},
     "y2":{"field":"hi"}}},
   {"data":{"name":"eS"},"mark":{"type":"line","color":"#555555","strokeWidth":9,"strokeDash":[26,16],"interpolate":"monotone","clip":true},
    "encoding":{"x":{"field":"x","type":"quantitative","scale":{"domain":[1100,1400],"nice":false,"zero":false},"axis":{"orient":"bottom","labels":false,"title":null,"values":[1100,1150,1200,1250,1300,1350,1400],"tickSize":-18}},
     "y":{"field":"y","type":"quantitative","scale":{"domain":[-1.5,5],"nice":false,"zero":false},"axis":{"orient":"left","labels":false,"title":null,"values":[-1,0,1,2,3,4,5],"tickSize":-18}},
     "detail":{"field":"r","type":"nominal"}}},
   {"data":{"name":"eR"},"mark":{"type":"line","color":"#FF0000","strokeWidth":5,"interpolate":"monotone","clip":true},
    "encoding":{"x":{"field":"x","type":"quantitative","scale":{"domain":[1100,1400],"nice":false,"zero":false},"axis":{"orient":"bottom","labels":false,"title":null,"domain":false,"values":[1116.667,1133.333,1166.667,1183.333,1216.667,1233.333,1266.667,1283.333,1316.667,1333.333,1366.667,1383.333],"tickSize":-9}},
     "y":{"field":"y","type":"quantitative","scale":{"domain":[-1.5,5],"nice":false,"zero":false},"axis":{"orient":"left","labels":false,"title":null,"domain":false,"values":[-0.5,0.5,1.5,2.5,3.5,4.5],"tickSize":-9}}}},
   {"data":{"name":"eN"},"mark":{"type":"rule","color":"black","strokeWidth":5},
    "encoding":{"x":{"field":"x","type":"quantitative","scale":{"domain":[1100,1400],"nice":false,"zero":false},"axis":{"orient":"top","labels":false,"title":null,"values":[1100,1150,1200,1250,1300,1350,1400],"tickSize":-18}},
     "y":{"field":"y","type":"quantitative","scale":{"domain":[-1.5,5],"nice":false,"zero":false},"axis":{"orient":"right","labels":false,"title":null,"values":[-1,0,1,2,3,4,5],"tickSize":-18}},
     "x2":{"field":"hx"},"y2":{"field":"hy"}}},
   {"data":{"name":"eN"},"mark":{"type":"point","shape":"triangle-up","angle":255,"size":1600,"filled":true,"color":"black","opacity":1},
    "encoding":{"x":{"field":"hx","type":"quantitative","scale":{"domain":[1100,1400],"nice":false,"zero":false},"axis":{"orient":"top","labels":false,"title":null,"domain":false,"values":[1116.667,1133.333,1166.667,1183.333,1216.667,1233.333,1266.667,1283.333,1316.667,1333.333,1366.667,1383.333],"tickSize":-9}},
     "y":{"field":"hy","type":"quantitative","scale":{"domain":[-1.5,5],"nice":false,"zero":false},"axis":{"orient":"right","labels":false,"title":null,"domain":false,"values":[-0.5,0.5,1.5,2.5,3.5,4.5],"tickSize":-9}}}},
   {"data":{"name":"eN"},"mark":{"type":"text","text":"η","font":"Liberation Serif","fontStyle":"italic","align":"right","baseline":"middle","fontSize":62,"color":"#D93A6A"},
    "encoding":{"x":{"field":"tx","type":"quantitative","scale":{"domain":[1100,1400],"nice":false,"zero":false},"axis":null},"y":{"field":"ty","type":"quantitative","scale":{"domain":[-1.5,5],"nice":false,"zero":false},"axis":null}}},
   {"data":{"name":"eN"},"mark":{"type":"text","font":"Liberation Serif","align":"left","baseline":"middle","fontSize":62,"color":"#D93A6A"},
    "encoding":{"x":{"field":"tx","type":"quantitative","scale":{"domain":[1100,1400],"nice":false,"zero":false},"axis":null},"y":{"field":"ty","type":"quantitative","scale":{"domain":[-1.5,5],"nice":false,"zero":false},"axis":null},"text":{"field":"eta"}}}
  ],
  "resolve":{"axis":{"x":"independent","y":"independent"}}},
 {"width":1300,"height":1062,"title":{"text":"(f) C₃H₈摩尔分数"},
  "layer":[
   {"data":{"name":"fB"},"mark":{"type":"area","color":"#A6A6A6","interpolate":"monotone","clip":true},
    "encoding":{"x":{"field":"x","type":"quantitative","scale":{"domain":[1100,1400],"nice":false,"zero":false},"axis":{"orient":"bottom","ticks":false,"domain":false,"values":[1100,1150,1200,1250,1300,1350,1400],"title":"温度/K","labelPadding":20,"titlePadding":35}},
     "y":{"field":"lo","type":"quantitative","scale":{"domain":[-1,4],"nice":false,"zero":false},"axis":{"orient":"left","ticks":false,"domain":false,"values":[-1,0,1,2,3,4],"title":"摩尔分数/10⁻³","labelPadding":28,"titlePadding":32}},
     "y2":{"field":"hi"}}},
   {"data":{"name":"fS"},"mark":{"type":"line","color":"#555555","strokeWidth":9,"strokeDash":[26,16],"interpolate":"monotone","clip":true},
    "encoding":{"x":{"field":"x","type":"quantitative","scale":{"domain":[1100,1400],"nice":false,"zero":false},"axis":{"orient":"bottom","labels":false,"title":null,"values":[1100,1150,1200,1250,1300,1350,1400],"tickSize":-18}},
     "y":{"field":"y","type":"quantitative","scale":{"domain":[-1,4],"nice":false,"zero":false},"axis":{"orient":"left","labels":false,"title":null,"values":[-1,0,1,2,3,4],"tickSize":-18}},
     "detail":{"field":"r","type":"nominal"}}},
   {"data":{"name":"fR"},"mark":{"type":"line","color":"#FF0000","strokeWidth":5,"interpolate":"monotone","clip":true},
    "encoding":{"x":{"field":"x","type":"quantitative","scale":{"domain":[1100,1400],"nice":false,"zero":false},"axis":{"orient":"bottom","labels":false,"title":null,"domain":false,"values":[1116.667,1133.333,1166.667,1183.333,1216.667,1233.333,1266.667,1283.333,1316.667,1333.333,1366.667,1383.333],"tickSize":-9}},
     "y":{"field":"y","type":"quantitative","scale":{"domain":[-1,4],"nice":false,"zero":false},"axis":{"orient":"left","labels":false,"title":null,"domain":false,"values":[-0.5,0.5,1.5,2.5,3.5],"tickSize":-9}}}},
   {"data":{"name":"fN"},"mark":{"type":"rule","color":"black","strokeWidth":5},
    "encoding":{"x":{"field":"x","type":"quantitative","scale":{"domain":[1100,1400],"nice":false,"zero":false},"axis":{"orient":"top","labels":false,"title":null,"values":[1100,1150,1200,1250,1300,1350,1400],"tickSize":-18}},
     "y":{"field":"y","type":"quantitative","scale":{"domain":[-1,4],"nice":false,"zero":false},"axis":{"orient":"right","labels":false,"title":null,"values":[-1,0,1,2,3,4],"tickSize":-18}},
     "x2":{"field":"hx"},"y2":{"field":"hy"}}},
   {"data":{"name":"fN"},"mark":{"type":"point","shape":"triangle-up","angle":213.6,"size":1600,"filled":true,"color":"black","opacity":1},
    "encoding":{"x":{"field":"hx","type":"quantitative","scale":{"domain":[1100,1400],"nice":false,"zero":false},"axis":{"orient":"top","labels":false,"title":null,"domain":false,"values":[1116.667,1133.333,1166.667,1183.333,1216.667,1233.333,1266.667,1283.333,1316.667,1333.333,1366.667,1383.333],"tickSize":-9}},
     "y":{"field":"hy","type":"quantitative","scale":{"domain":[-1,4],"nice":false,"zero":false},"axis":{"orient":"right","labels":false,"title":null,"domain":false,"values":[-0.5,0.5,1.5,2.5,3.5],"tickSize":-9}}}},
   {"data":{"name":"fN"},"mark":{"type":"text","text":"η","font":"Liberation Serif","fontStyle":"italic","align":"right","baseline":"middle","fontSize":62,"color":"#D93A6A"},
    "encoding":{"x":{"field":"tx","type":"quantitative","scale":{"domain":[1100,1400],"nice":false,"zero":false},"axis":null},"y":{"field":"ty","type":"quantitative","scale":{"domain":[-1,4],"nice":false,"zero":false},"axis":null}}},
   {"data":{"name":"fN"},"mark":{"type":"text","font":"Liberation Serif","align":"left","baseline":"middle","fontSize":62,"color":"#D93A6A"},
    "encoding":{"x":{"field":"tx","type":"quantitative","scale":{"domain":[1100,1400],"nice":false,"zero":false},"axis":null},"y":{"field":"ty","type":"quantitative","scale":{"domain":[-1,4],"nice":false,"zero":false},"axis":null},"text":{"field":"eta"}}}
  ],
  "resolve":{"axis":{"x":"independent","y":"independent"}}}
]
}
